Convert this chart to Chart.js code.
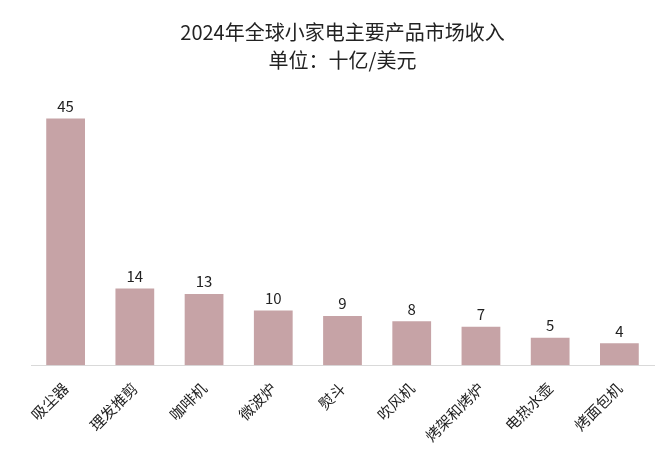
<!DOCTYPE html>
<html>
<head>
<meta charset="utf-8">
<script src="https://cdn.jsdelivr.net/npm/chart.js@4"></script>
<style>
  body { margin: 0; background: #fff; }
  #wrap { width: 670px; height: 453px; }
</style>
</head>
<body>
<div id="wrap"><canvas id="chart"></canvas></div>
<script>
const categorias = ['吸尘器', '理发推剪', '咖啡机', '微波炉', '熨斗', '吹风机', '烤架和烤炉', '电热水壶', '烤面包机'];
const ingresos = [45, 14, 13, 10, 9, 8, 7, 5, 4];
const titulo = ['2024年全球小家电主要产品市场收入', '单位：十亿/美元'];

const fuente = '"Noto Sans CJK SC", "Noto Sans", sans-serif';

// etiquetas de valor encima de cada barra
const etiquetas = {
    id: 'etiquetas',
    afterDatasetsDraw(chart) {
        const ctx = chart.ctx;
        const meta = chart.getDatasetMeta(0);
        ctx.save();
        ctx.font = '15px ' + fuente;
        ctx.fillStyle = '#222';
        ctx.textAlign = 'center';
        ctx.textBaseline = 'bottom';
        meta.data.forEach((bar, i) => {
            ctx.fillText(ingresos[i], bar.x, bar.y - 5);
        });
        ctx.restore();
    }
};

new Chart(document.getElementById('chart'), {
    type: 'bar',
    data: {
        labels: categorias,
        datasets: [{
            data: ingresos,
            backgroundColor: '#C6A3A6',
            barPercentage: 0.56,
            categoryPercentage: 1
        }]
    },
    options: {
        responsive: true,
        maintainAspectRatio: false,
        animation: false,
        layout: { padding: { left: 31, right: 16, top: 0, bottom: 2 } },
        plugins: {
            legend: { display: false },
            tooltip: { enabled: false },
            title: {
                display: true,
                text: titulo,
                color: '#222',
                font: { family: fuente, size: 20, weight: 'normal', lineHeight: 1.4 },
                padding: { top: 18, bottom: 17 }
            }
        },
        scales: {
            x: {
                grid: { display: false },
                border: { display: true, color: '#d9d9d9', width: 1 },
                ticks: {
                    maxRotation: 45,
                    minRotation: 45,
                    color: '#222',
                    font: { family: fuente, size: 15 },
                    padding: 6
                }
            },
            y: {
                display: false,
                min: 0,
                max: 50
            }
        }
    },
    plugins: [etiquetas]
});
</script>
</body>
</html>
